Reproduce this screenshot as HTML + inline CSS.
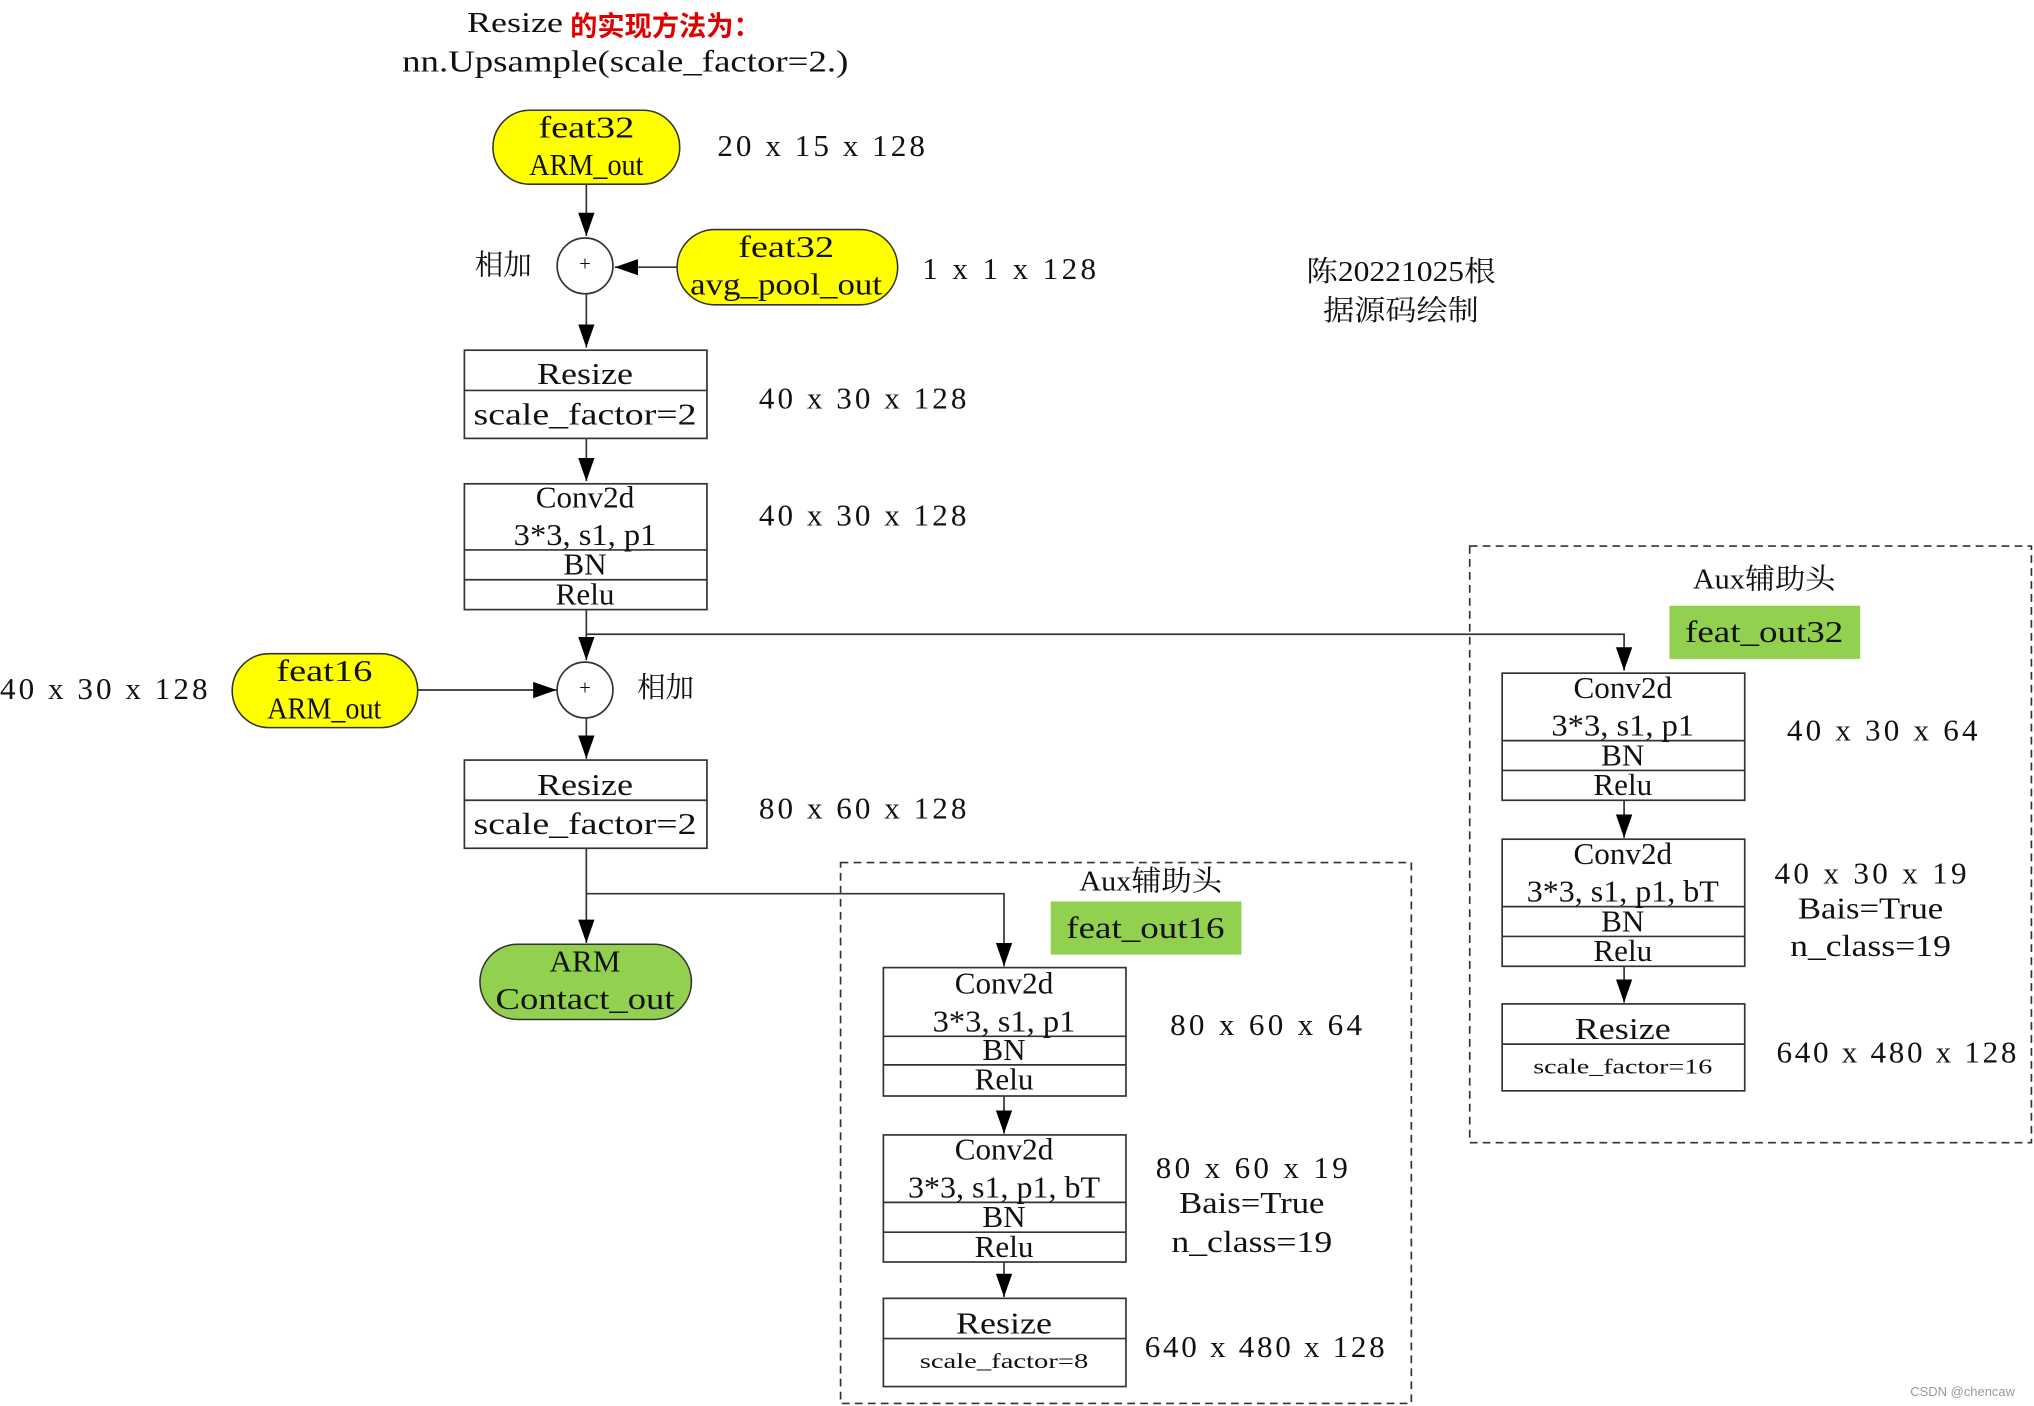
<!DOCTYPE html>
<html><head><meta charset="utf-8">
<style>
html,body{margin:0;padding:0;background:#fff;}
svg{display:block;}
text{font-family:"Liberation Serif","Noto Serif CJK SC",serif;font-size:24px;fill:#111;dominant-baseline:central;text-anchor:middle;}
.cn{font-family:"Liberation Serif","Noto Serif CJK SC",serif;font-size:22px;}
</style></head><body>
<svg width="2034" height="1406" viewBox="0 0 1568 1084" preserveAspectRatio="none" xmlns="http://www.w3.org/2000/svg">
<defs>
<marker id="a2" viewBox="0 0 10 10" refX="10" refY="5" markerWidth="18" markerHeight="18" markerUnits="userSpaceOnUse" orient="auto">
<path d="M0,1.5 L10,5 L0,8.5 z" fill="#000"/>
</marker>
</defs>
<g stroke="#333" stroke-width="1.3" fill="none">
<line x1="452" y1="142" x2="452" y2="182" marker-end="url(#a2)"/>
<line x1="522" y1="206" x2="474" y2="206" marker-end="url(#a2)"/>
<line x1="452" y1="227" x2="452" y2="268" marker-end="url(#a2)"/>
<line x1="452" y1="338" x2="452" y2="371" marker-end="url(#a2)"/>
<line x1="452" y1="470" x2="452" y2="509" marker-end="url(#a2)"/>
<polyline points="452,489 1252,489 1252,517" marker-end="url(#a2)"/>
<line x1="322" y1="532" x2="429" y2="532" marker-end="url(#a2)"/>
<line x1="452" y1="554" x2="452" y2="585" marker-end="url(#a2)"/>
<line x1="452" y1="654" x2="452" y2="727" marker-end="url(#a2)"/>
<polyline points="452,689 774,689 774,745" marker-end="url(#a2)"/>
<line x1="774" y1="845" x2="774" y2="874" marker-end="url(#a2)"/>
<line x1="774" y1="973" x2="774" y2="1000" marker-end="url(#a2)"/>
<line x1="1252" y1="617" x2="1252" y2="646" marker-end="url(#a2)"/>
<line x1="1252" y1="745" x2="1252" y2="773" marker-end="url(#a2)"/>
<circle cx="451" cy="205" r="21.5" fill="#fff"/>
<circle cx="451" cy="532" r="21.5" fill="#fff"/>
<rect x="648" y="665" width="440" height="417" stroke-dasharray="6,4"/>
<rect x="1133" y="421" width="433" height="460" stroke-dasharray="6,4"/>
<rect x="358" y="270" width="187" height="68"/><line x1="358" y1="301" x2="545" y2="301"/>
<rect x="358" y="373" width="187" height="97"/><line x1="358" y1="424" x2="545" y2="424"/><line x1="358" y1="447" x2="545" y2="447"/>
<rect x="358" y="586" width="187" height="68"/><line x1="358" y1="617" x2="545" y2="617"/>
<rect x="681" y="746" width="187" height="99"/><line x1="681" y1="799" x2="868" y2="799"/><line x1="681" y1="821" x2="868" y2="821"/>
<rect x="681" y="875" width="187" height="98"/><line x1="681" y1="927" x2="868" y2="927"/><line x1="681" y1="950" x2="868" y2="950"/>
<rect x="681" y="1001" width="187" height="68"/><line x1="681" y1="1032" x2="868" y2="1032"/>
<rect x="1158" y="519" width="187" height="98"/><line x1="1158" y1="571" x2="1345" y2="571"/><line x1="1158" y1="594" x2="1345" y2="594"/>
<rect x="1158" y="647" width="187" height="98"/><line x1="1158" y1="699" x2="1345" y2="699"/><line x1="1158" y1="722" x2="1345" y2="722"/>
<rect x="1158" y="774" width="187" height="67"/><line x1="1158" y1="805" x2="1345" y2="805"/>
</g>
<rect x="380" y="85" width="144" height="57" rx="28.5" fill="#ffff00" stroke="#333" stroke-width="1.2"/>
<rect x="522" y="177" width="170" height="58" rx="29" fill="#ffff00" stroke="#333" stroke-width="1.2"/>
<rect x="179" y="504" width="143" height="57" rx="28.5" fill="#ffff00" stroke="#333" stroke-width="1.2"/>
<rect x="370" y="728" width="163" height="58" rx="29" fill="#92d050" stroke="#333" stroke-width="1.2"/>
<rect x="810" y="695" width="147" height="41" fill="#92d050"/>
<rect x="1287" y="467" width="147" height="41" fill="#92d050"/>

<text x="397" y="18" textLength="74" lengthAdjust="spacingAndGlyphs" style="font-size:22px">Resize</text>
<text x="513" y="18" style="fill:#e00000;font-weight:bold;font-family:'Noto Sans CJK SC',sans-serif;font-size:21px">的实现方法为：</text>
<text x="482" y="47" textLength="344" lengthAdjust="spacingAndGlyphs">nn.Upsample(scale_factor=2.)</text>

<text x="452" y="98" textLength="74" lengthAdjust="spacingAndGlyphs">feat32</text>
<text x="452" y="127" textLength="88" lengthAdjust="spacingAndGlyphs">ARM_out</text>
<text x="633" y="112" textLength="160" lengthAdjust="spacing">20 x 15 x 128</text>
<text x="388" y="205" class="cn">相加</text>
<text x="451" y="204" style="font-size:16px">+</text>
<text x="606" y="190" textLength="74" lengthAdjust="spacingAndGlyphs">feat32</text>
<text x="606" y="219" textLength="148" lengthAdjust="spacingAndGlyphs">avg_pool_out</text>
<text x="778" y="207" textLength="134" lengthAdjust="spacing">1 x 1 x 128</text>
<text x="1080" y="210" class="cn" textLength="146" lengthAdjust="spacingAndGlyphs">陈20221025根</text>
<text x="1080" y="240" class="cn" textLength="120" lengthAdjust="spacingAndGlyphs">据源码绘制</text>

<text x="451" y="288" textLength="74" lengthAdjust="spacingAndGlyphs">Resize</text>
<text x="451" y="319" textLength="172" lengthAdjust="spacingAndGlyphs">scale_factor=2</text>
<text x="665" y="307" textLength="160" lengthAdjust="spacing">40 x 30 x 128</text>
<text x="451" y="383" textLength="76" lengthAdjust="spacingAndGlyphs">Conv2d</text>
<text x="451" y="412" textLength="110" lengthAdjust="spacingAndGlyphs">3*3, s1, p1</text>
<text x="451" y="435">BN</text>
<text x="451" y="458">Relu</text>
<text x="665" y="397" textLength="160" lengthAdjust="spacing">40 x 30 x 128</text>

<text x="80" y="531" textLength="160" lengthAdjust="spacing">40 x 30 x 128</text>
<text x="250" y="517" textLength="74" lengthAdjust="spacingAndGlyphs">feat16</text>
<text x="250" y="546" textLength="88" lengthAdjust="spacingAndGlyphs">ARM_out</text>
<text x="451" y="531" style="font-size:16px">+</text>
<text x="513" y="531" class="cn">相加</text>

<text x="451" y="605" textLength="74" lengthAdjust="spacingAndGlyphs">Resize</text>
<text x="451" y="635" textLength="172" lengthAdjust="spacingAndGlyphs">scale_factor=2</text>
<text x="665" y="623" textLength="160" lengthAdjust="spacing">80 x 60 x 128</text>
<text x="451" y="741">ARM</text>
<text x="451" y="770" textLength="138" lengthAdjust="spacingAndGlyphs">Contact_out</text>

<text x="887" y="680" class="cn" textLength="110" lengthAdjust="spacingAndGlyphs">Aux辅助头</text>
<text x="883" y="715" textLength="122" lengthAdjust="spacingAndGlyphs">feat_out16</text>
<text x="774" y="758" textLength="76" lengthAdjust="spacingAndGlyphs">Conv2d</text>
<text x="774" y="787" textLength="110" lengthAdjust="spacingAndGlyphs">3*3, s1, p1</text>
<text x="774" y="809">BN</text>
<text x="774" y="832">Relu</text>
<text x="976" y="790" textLength="148" lengthAdjust="spacing">80 x 60 x 64</text>
<text x="774" y="886" textLength="76" lengthAdjust="spacingAndGlyphs">Conv2d</text>
<text x="774" y="915" textLength="148" lengthAdjust="spacingAndGlyphs">3*3, s1, p1, bT</text>
<text x="774" y="938">BN</text>
<text x="774" y="961">Relu</text>
<text x="965" y="900" textLength="148" lengthAdjust="spacing">80 x 60 x 19</text>
<text x="965" y="927" textLength="112" lengthAdjust="spacingAndGlyphs">Bais=True</text>
<text x="965" y="957" textLength="124" lengthAdjust="spacingAndGlyphs">n_class=19</text>
<text x="774" y="1020" textLength="74" lengthAdjust="spacingAndGlyphs">Resize</text>
<text x="774" y="1050" style="font-size:16px" textLength="130" lengthAdjust="spacingAndGlyphs">scale_factor=8</text>
<text x="975" y="1038" textLength="185" lengthAdjust="spacing">640 x 480 x 128</text>

<text x="1360" y="447" class="cn" textLength="110" lengthAdjust="spacingAndGlyphs">Aux辅助头</text>
<text x="1360" y="487" textLength="122" lengthAdjust="spacingAndGlyphs">feat_out32</text>
<text x="1251" y="530" textLength="76" lengthAdjust="spacingAndGlyphs">Conv2d</text>
<text x="1251" y="559" textLength="110" lengthAdjust="spacingAndGlyphs">3*3, s1, p1</text>
<text x="1251" y="582">BN</text>
<text x="1251" y="605">Relu</text>
<text x="1451" y="563" textLength="147" lengthAdjust="spacing">40 x 30 x 64</text>
<text x="1251" y="658" textLength="76" lengthAdjust="spacingAndGlyphs">Conv2d</text>
<text x="1251" y="687" textLength="148" lengthAdjust="spacingAndGlyphs">3*3, s1, p1, bT</text>
<text x="1251" y="710">BN</text>
<text x="1251" y="733">Relu</text>
<text x="1442" y="673" textLength="148" lengthAdjust="spacing">40 x 30 x 19</text>
<text x="1442" y="700" textLength="112" lengthAdjust="spacingAndGlyphs">Bais=True</text>
<text x="1442" y="729" textLength="124" lengthAdjust="spacingAndGlyphs">n_class=19</text>
<text x="1251" y="793" textLength="74" lengthAdjust="spacingAndGlyphs">Resize</text>
<text x="1251" y="823" style="font-size:16px" textLength="138" lengthAdjust="spacingAndGlyphs">scale_factor=16</text>
<text x="1462" y="811" textLength="185" lengthAdjust="spacing">640 x 480 x 128</text>

<text x="1513" y="1073" style="font-family:'Liberation Sans',sans-serif;font-size:10px;fill:#999">CSDN @chencaw</text>
</svg>
</body></html>
